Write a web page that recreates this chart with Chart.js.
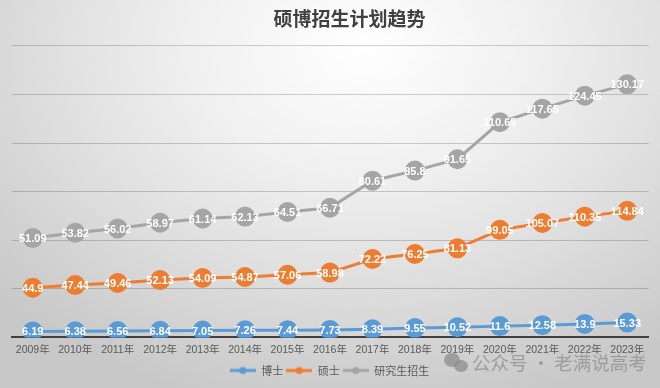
<!DOCTYPE html>
<html>
<head>
<meta charset="utf-8">
<script src="https://cdn.jsdelivr.net/npm/chart.js@4.4.1/dist/chart.umd.min.js"></script>
<style>
html,body{margin:0;padding:0;}
#wrap{width:660px;height:388px;position:relative;
background: radial-gradient(ellipse 75% 95% at 55% 12%, #ffffff 0%, #f0f0f0 35%, #dedede 65%, #c8c8c8 100%);}
canvas{display:block;}
</style>
</head>
<body>
<div id="wrap"><canvas id="c" width="660" height="388"></canvas></div>
<script>
const years = ['2009年','2010年','2011年','2012年','2013年','2014年','2015年','2016年','2017年','2018年','2019年','2020年','2021年','2022年','2023年'];
const doctor = [6.19,6.38,6.56,6.84,7.05,7.26,7.44,7.73,8.39,9.55,10.52,11.6,12.58,13.9,15.33];
const master = [44.9,47.44,49.46,52.13,54.09,54.87,57.06,58.98,72.22,76.25,81.13,99.05,105.07,110.35,114.84];
const total = [51.09,53.82,56.02,58.97,61.14,62.13,64.51,66.71,80.61,85.8,91.65,110.65,117.65,124.45,130.17];
const seriesNames = ['博士','硕士','研究生招生'];
const colors = ['#5B9BD5','#ED7D31','#A5A5A5'];

function legendIcon(color){
  const c = document.createElement('canvas');
  c.width = 26; c.height = 10;
  const x = c.getContext('2d');
  x.strokeStyle = color; x.lineWidth = 3;
  x.beginPath(); x.moveTo(0,5); x.lineTo(26,5); x.stroke();
  x.fillStyle = color;
  x.beginPath(); x.arc(13,5,3.5,0,Math.PI*2); x.fill();
  return c;
}
const icons = colors.map(legendIcon);

const labelPlugin = {
  id:'vlabels',
  afterLayout(chart){
    if (chart.titleBlock) { chart.titleBlock.left += 40; }
  },
  afterDatasetsDraw(chart){
    const ctx = chart.ctx;
    ctx.save();
    ctx.font = 'bold 11px "Liberation Sans", Arial, sans-serif';
    ctx.fillStyle = '#ffffff';
    ctx.textAlign = 'center';
    ctx.textBaseline = 'middle';
    chart.data.datasets.forEach((ds,i)=>{
      const meta = chart.getDatasetMeta(i);
      meta.data.forEach((pt,j)=>{
        ctx.fillText(String(ds.data[j]), pt.x, pt.y+1);
      });
    });
    ctx.restore();
  }
};

const watermarkPlugin = {
  id:'wm',
  afterDraw(chart){
    const ctx = chart.ctx;
    ctx.save();
    ctx.globalAlpha = 0.75;
    ctx.fillStyle = '#8c8c8c';
    ctx.beginPath(); ctx.ellipse(452,360,8,7,0,0,Math.PI*2); ctx.fill();
    ctx.beginPath(); ctx.ellipse(461,366,7,6,0,0,Math.PI*2); ctx.fill();
    ctx.font = '18.5px "Noto Sans CJK SC", sans-serif';
    ctx.textAlign = 'left';
    ctx.textBaseline = 'middle';
    ctx.fillText('公众号 · 老满说高考', 472, 363);
    ctx.restore();
  }
};

new Chart(document.getElementById('c'), {
  type:'line',
  data:{
    labels: years,
    datasets:[doctor,master,total].map((d,i)=>({
      label: seriesNames[i],
      data: d,
      borderColor: colors[i],
      backgroundColor: colors[i],
      pointBackgroundColor: colors[i],
      pointBorderColor: colors[i],
      borderWidth: 3,
      pointRadius: 8.5,
      pointHoverRadius: 8.5,
      fill: false,
      tension: 0
    }))
  },
  options:{
    responsive:false,
    animation:false,
    layout:{padding:{left:10,right:11,top:0,bottom:2}},
    plugins:{
      title:{display:true,text:'硕博招生计划趋势',color:'#404040',
        font:{family:'"Noto Sans CJK SC", sans-serif',size:19,weight:'bold'},
        padding:{top:7,bottom:16}},
      legend:{position:'bottom',
        labels:{usePointStyle:true,pointStyleWidth:26,boxHeight:10,color:'#595959',padding:3,
          font:{family:'"Noto Sans CJK SC", sans-serif',size:11},
          generateLabels(chart){
            const items = Chart.defaults.plugins.legend.labels.generateLabels(chart);
            items.forEach((it,i)=>{ it.pointStyle = icons[i]; });
            return items;
          }}},
      tooltip:{enabled:false}
    },
    scales:{
      x:{
        offset:true,
        grid:{display:false,drawTicks:false,offset:true},
        border:{display:true,color:'#404040',width:2},
        ticks:{color:'#595959',padding:6,font:{family:'"Liberation Sans", "Noto Sans CJK SC", sans-serif',size:10.5}}
      },
      y:{
        stacked:true,
        min:0,max:300,
        grid:{color:'rgba(0,0,0,0.18)',drawTicks:false,lineWidth:1},
        border:{display:false},
        ticks:{display:false,stepSize:50}
      }
    }
  },
  plugins:[labelPlugin, watermarkPlugin]
});
</script>
</body>
</html>
